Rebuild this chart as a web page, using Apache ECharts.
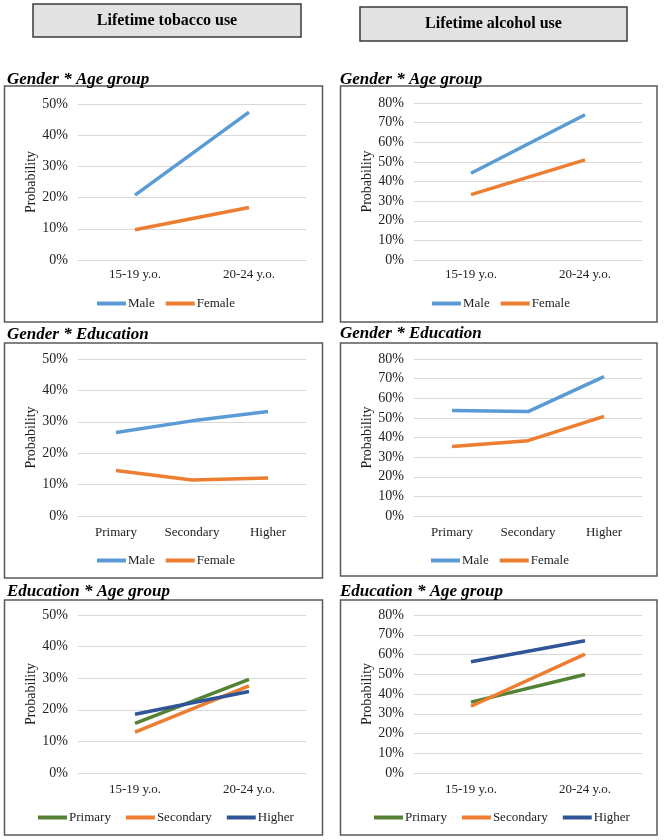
<!DOCTYPE html>
<html>
<head>
<meta charset="utf-8">
<script src="https://cdn.jsdelivr.net/npm/echarts@6/dist/echarts.min.js"></script>
<style>
  html, body { margin: 0; padding: 0; background: #fff; }
  #chart { width: 664px; height: 840px; }
</style>
</head>
<body>
<div id="chart"></div>
<script>
// categories
const ageGroups = ["15-19 y.o.", "20-24 y.o."];
const eduLevels = ["Primary", "Secondary", "Higher"];

// tobacco (%)
const tobaccoMaleAge = [20.8, 47.4];
const tobaccoFemaleAge = [9.7, 16.8];
const tobaccoMaleEdu = [26.6, 30.3, 33.3];
const tobaccoFemaleEdu = [14.5, 11.5, 12.1];
const tobaccoPrimaryAge = [15.7, 29.6];
const tobaccoSecondaryAge = [12.9, 27.6];
const tobaccoHigherAge = [18.6, 25.8];

// alcohol (%)
const alcoholMaleAge = [44.2, 74.0];
const alcoholFemaleAge = [33.3, 51.0];
const alcoholMaleEdu = [53.8, 53.2, 71.0];
const alcoholFemaleEdu = [35.4, 38.4, 50.8];
const alcoholPrimaryAge = [35.9, 49.9];
const alcoholSecondaryAge = [33.8, 60.2];
const alcoholHigherAge = [56.3, 67.0];

const chart = echarts.init(document.getElementById("chart"));

const serif = "Liberation Serif, Times New Roman, serif";
const colors = {
  Male: "#5b9bd5",
  Female: "#ed7d31",
  Primary: "#548235",
  Secondary: "#ed7d31",
  Higher: "#2f5597",
};

// panel layout: grid rect, box rect, title, legend start
const panels = [
  { grid: [78, 104, 228, 156], box: [4.5, 86, 318, 236], title: "Gender * Age group", tx: 7, ty: 80, legendX: 97, legendY: 302, legendGap: 11, yMax: 50, cats: ageGroups, labelMargin: 8,
    lines: [["Male", tobaccoMaleAge], ["Female", tobaccoFemaleAge]] },
  { grid: [414, 103, 228, 157], box: [340.5, 86, 316.5, 236], title: "Gender * Age group", tx: 340, ty: 80, legendX: 432, legendY: 302, legendGap: 11, yMax: 80, cats: ageGroups, labelMargin: 8,
    lines: [["Male", alcoholMaleAge], ["Female", alcoholFemaleAge]] },
  { grid: [78, 359, 228, 157], box: [4.5, 343, 318, 235], title: "Gender * Education", tx: 7, ty: 335, legendX: 97, legendY: 559, legendGap: 11, yMax: 50, cats: eduLevels, labelMargin: 10,
    lines: [["Male", tobaccoMaleEdu], ["Female", tobaccoFemaleEdu]] },
  { grid: [414, 359, 228, 157], box: [340.5, 343, 316.5, 233], title: "Gender * Education", tx: 340, ty: 334, legendX: 431, legendY: 559, legendGap: 11, yMax: 80, cats: eduLevels, labelMargin: 10,
    lines: [["Male", alcoholMaleEdu], ["Female", alcoholFemaleEdu]] },
  { grid: [78, 615, 228, 158], box: [4.5, 600, 318, 235], title: "Education * Age group", tx: 7, ty: 592, legendX: 38, legendY: 816, legendGap: 15, yMax: 50, cats: ageGroups, labelMargin: 10,
    lines: [["Primary", tobaccoPrimaryAge], ["Secondary", tobaccoSecondaryAge], ["Higher", tobaccoHigherAge]] },
  { grid: [414, 615, 228, 158], box: [340.5, 600, 316.5, 235], title: "Education * Age group", tx: 340, ty: 592, legendX: 374, legendY: 816, legendGap: 15, yMax: 80, cats: ageGroups, labelMargin: 10,
    lines: [["Primary", alcoholPrimaryAge], ["Secondary", alcoholSecondaryAge], ["Higher", alcoholHigherAge]] },
];

const grid = [], xAxis = [], yAxis = [], series = [], legend = [], graphic = [];

// header boxes
[["Lifetime tobacco use", 33, 4, 268, 33], ["Lifetime alcohol use", 360, 7, 267, 34]].forEach(([txt, x, y, w, h]) => {
  graphic.push({
    type: "rect", shape: { x, y, width: w, height: h },
    style: { fill: "#e2e2e2", stroke: "#3a3a3a", lineWidth: 1.5 },
  });
  graphic.push({
    type: "text", x: x + w / 2, y: y + h / 2,
    style: { text: txt, font: "bold 16px " + serif, fill: "#000", align: "center", verticalAlign: "middle" },
  });
});

panels.forEach((p, i) => {
  const [gx, gy, gw, gh] = p.grid;
  grid.push({ left: gx, top: gy, width: gw, height: gh });

  graphic.push({
    type: "rect", z: -1, shape: { x: p.box[0], y: p.box[1], width: p.box[2], height: p.box[3] },
    style: { fill: "#fff", stroke: "#595959", lineWidth: 1.5 },
  });
  graphic.push({
    type: "text", x: p.tx, y: p.ty,
    style: { text: p.title, font: "italic bold 17px " + serif, fill: "#000", verticalAlign: "middle" },
  });

  xAxis.push({
    type: "category", gridIndex: i, data: p.cats, boundaryGap: true,
    axisLine: { show: true, lineStyle: { color: "#d9d9d9", width: 1 } },
    axisTick: { show: false },
    axisLabel: { color: "#222", fontFamily: serif, fontSize: 13, margin: p.labelMargin },
  });
  yAxis.push({
    type: "value", gridIndex: i, min: 0, max: p.yMax, interval: 10,
    name: "Probability", nameLocation: "middle", nameRotate: 90, nameGap: 39,
    nameTextStyle: { color: "#222", fontFamily: serif, fontSize: 14 },
    axisLine: { show: false }, axisTick: { show: false },
    axisLabel: { color: "#222", fontFamily: serif, fontSize: 14, margin: 10, formatter: (v) => v + "%" },
    splitLine: { lineStyle: { color: "#d9d9d9", width: 1 } },
  });

  p.lines.forEach(([name, values]) => {
    series.push({
      type: "line", name, xAxisIndex: i, yAxisIndex: i, data: values,
      symbol: "none", color: colors[name],
      lineStyle: { width: 3.5, color: colors[name] },
      animation: false,
    });
  });

  legend.push({
    left: p.legendX, top: p.legendY - 5, orient: "horizontal", padding: 0,
    data: p.lines.map((l) => l[0]),
    icon: "rect", itemWidth: 29, itemHeight: 4, itemGap: p.legendGap,
    textStyle: { color: "#222", fontFamily: serif, fontSize: 13, padding: [0, 0, 0, -3] },
  });
});

chart.setOption({
  backgroundColor: "#fff",
  animation: false,
  grid, xAxis, yAxis, series, legend, graphic,
});
</script>
</body>
</html>
